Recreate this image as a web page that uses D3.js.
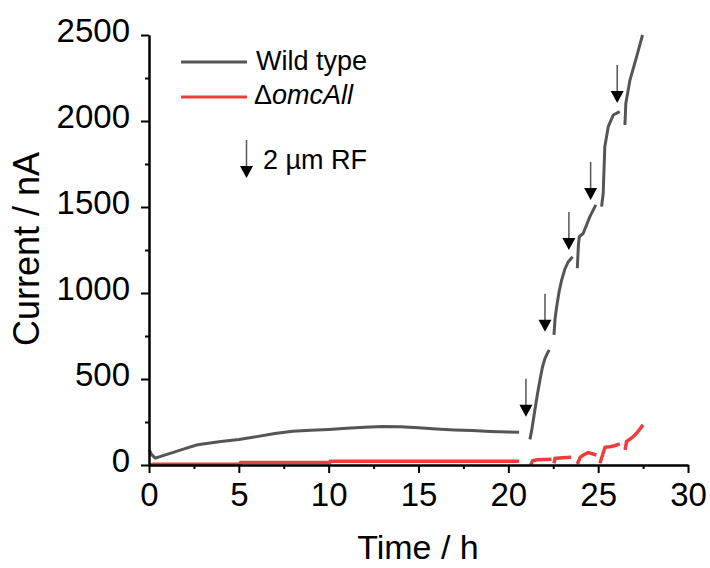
<!DOCTYPE html>
<html>
<head>
<meta charset="utf-8">
<script src="https://cdn.jsdelivr.net/npm/d3@7"></script>
<style>
  body { margin: 0; background: #fff; }
  .container { width: 710px; height: 568px; }
  text { font-family: Arial, "Liberation Sans", sans-serif; fill: #000; }
</style>
</head>
<body>
<div class="container"></div>
<script>
/********** the Data **********/
// wild type current, null = gap between recordings
let wtTime = [0, 0.15, 0.35, 1, 2, 2.65, 3, 4, 5, 6, 7, 8, 9, 10, 11, 12, 13, 14, 15, 16, 17, 18, 19, 20, 20.6,
  null,
  21.2, 21.3, 21.39, 21.6, 21.76, 21.9, 22.04, 22.2, 22.28,
  null,
  22.54, 22.6, 22.69, 22.83, 22.97, 23.15, 23.34, 23.58,
  null,
  23.84, 23.9, 23.95, 24.17, 24.54, 24.87,
  null,
  25.19, 25.28, 25.37, 25.56, 25.84, 26.2,
  null,
  26.49, 26.54, 26.77, 27.14, 27.47];
let wtCurrent = [90, 60, 40, 62, 95, 116, 122, 136, 148, 165, 183, 196, 202, 207, 213, 220, 224, 222, 217, 210, 204, 200, 195, 192, 190,
  null,
  149, 200, 262, 400, 494, 570, 620, 655, 669,
  null,
  756, 850, 920, 1010, 1076, 1140, 1182, 1211,
  null,
  1144, 1280, 1327, 1347, 1444, 1512,
  null,
  1502, 1580, 1851, 1967, 2035, 2054,
  null,
  1977, 2103, 2238, 2374, 2500];

// deletion mutant current
let mutTime = [0, 0.3, 5.05, 5.1, 10.05, 10.1, 20.6,
  null,
  21.24, 21.35, 21.6, 22.4,
  null,
  22.54, 22.6, 23.0, 23.5,
  null,
  23.84, 24.0, 24.17, 24.45, 24.9,
  null,
  25.1, 25.38, 25.65, 25.9, 26.2,
  null,
  26.5, 26.58, 26.9, 27.14, 27.5];
let mutCurrent = [0, 5, 5, 15, 15, 22, 22,
  null,
  0, 25, 30, 33,
  null,
  10, 38, 42, 45,
  null,
  6, 45, 58, 72, 58,
  null,
  10, 103, 106, 112, 122,
  null,
  87, 136, 160, 184, 233];

// 2 um RF additions (arrow tips)
let rfTime = [20.98, 22.04, 23.37, 24.58, 26.06];
let rfCurrent = [281, 775, 1250, 1541, 2105];

let xTicks = [0, 5, 10, 15, 20, 25, 30];
let xMinor = [2.5, 7.5, 12.5, 17.5, 22.5, 27.5];
let yTicks = [0, 500, 1000, 1500, 2000, 2500];
let yMinor = [250, 750, 1250, 1750, 2250];

let seriesNames = ["Wild type", "\u0394", "omcAll"];


/********** drawChart **********/
function drawChart() {
  let width = 710;
  let height = 568;
  let margin = {top: 35, right: 22, bottom: 103, left: 149};

  let svg = d3.select(".container")
    .append("svg")
      .attr("width", width)
      .attr("height", height);

  /***** scales *****/
  let xScale = d3.scaleLinear()
    .domain([0, 30])
    .range([margin.left, width - margin.right]);

  let yScale = d3.scaleLinear()
    .domain([0, 2500])
    .range([height - margin.bottom, margin.top]);

  /***** lines *****/
  let line = d3.line()
    .defined(d => d[1] !== null)
    .x(d => xScale(d[0]))
    .y(d => yScale(d[1]));

  let wtData = wtTime.map((t, i) => [t, wtCurrent[i]]);
  let mutData = mutTime.map((t, i) => [t, mutCurrent[i]]);

  svg.append("path")
    .datum(mutData)
    .attr("d", line)
    .attr("fill", "none")
    .attr("stroke", "#f03c3c")
    .attr("stroke-width", 3.5);

  svg.append("path")
    .datum(wtData)
    .attr("d", line)
    .attr("fill", "none")
    .attr("stroke", "#555")
    .attr("stroke-width", 3)
    .attr("stroke-linejoin", "round");

  /***** arrows *****/
  function arrow(g, x, yTip) {
    g.append("line")
      .attr("x1", x).attr("x2", x)
      .attr("y1", yTip - 38).attr("y2", yTip - 11)
      .attr("stroke", "#555")
      .attr("stroke-width", 1.5);
    g.append("path")
      .attr("d", `M${x - 6.5},${yTip - 12}L${x + 6.5},${yTip - 12}L${x},${yTip}Z`)
      .attr("fill", "#000");
  }

  let arrows = svg.append("g").attr("class", "rf-arrows");
  rfTime.forEach((t, i) => arrow(arrows, xScale(t), yScale(rfCurrent[i])));

  /***** axes *****/
  let axisY = height - margin.bottom;

  svg.append("g")
    .attr("transform", `translate(0, ${axisY})`)
    .call(d3.axisBottom(xScale).tickValues(xMinor).tickSize(4).tickSizeOuter(0).tickFormat(""));

  let xAxis = svg.append("g")
    .attr("class", "x-axis")
    .attr("transform", `translate(0, ${axisY})`)
    .call(d3.axisBottom(xScale).tickValues(xTicks).tickSize(8).tickSizeOuter(0).tickPadding(10)
      .tickFormat(d3.format("d")));

  svg.append("g")
    .attr("transform", `translate(${margin.left}, 0)`)
    .call(d3.axisLeft(yScale).tickValues(yMinor).tickSize(4).tickSizeOuter(0).tickFormat(""));

  let yAxis = svg.append("g")
    .attr("class", "y-axis")
    .attr("transform", `translate(${margin.left}, 0)`)
    .call(d3.axisLeft(yScale).tickValues(yTicks).tickSize(8).tickSizeOuter(0).tickPadding(11)
      .tickFormat(d3.format("d")));

  svg.selectAll(".domain, .tick line")
    .attr("stroke", "#000")
    .attr("stroke-width", 2);

  xAxis.selectAll("text").style("font-size", "33px").attr("font-family", null);
  yAxis.selectAll("text").style("font-size", "33px").attr("font-family", null).attr("dy", "0.2em");

  /***** axis titles *****/
  svg.append("text")
    .attr("x", 418)
    .attr("y", 559)
    .style("text-anchor", "middle")
    .style("font-size", "34px")
    .text("Time / h");

  svg.append("text")
    .attr("transform", "translate(39, 249) rotate(-90)")
    .style("text-anchor", "middle")
    .style("font-size", "36px")
    .text("Current / nA");

  /***** legend *****/
  let legend = svg.append("g").attr("class", "legend");

  legend.append("line")
    .attr("x1", 181).attr("x2", 247)
    .attr("y1", 62).attr("y2", 62)
    .attr("stroke", "#555").attr("stroke-width", 3);
  legend.append("text")
    .attr("x", 256).attr("y", 70)
    .style("font-size", "27px")
    .text(seriesNames[0]);

  legend.append("line")
    .attr("x1", 181).attr("x2", 247)
    .attr("y1", 97).attr("y2", 97)
    .attr("stroke", "#f03c3c").attr("stroke-width", 3);
  let mutLabel = legend.append("text")
    .attr("x", 254).attr("y", 104)
    .style("font-size", "27px");
  mutLabel.append("tspan").text(seriesNames[1]);
  mutLabel.append("tspan").style("font-style", "italic").text(seriesNames[2]);

  arrow(legend, 246.5, 178);
  legend.append("text")
    .attr("x", 263).attr("y", 169)
    .style("font-size", "27px")
    .text("2 \u00b5m RF");
}

drawChart();
</script>
</body>
</html>
